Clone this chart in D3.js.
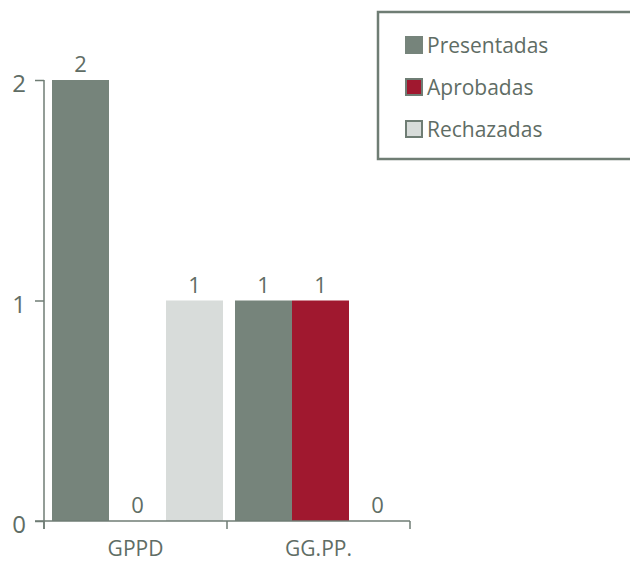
<!DOCTYPE html>
<html>
<head>
<meta charset="utf-8">
<script src="https://cdn.jsdelivr.net/npm/d3@7"></script>
<style>
  html, body { margin: 0; padding: 0; background: #fff; }
  svg { display: block; }
  text { font-family: "Open Sans", "Noto Sans", sans-serif; fill: #5f6d65; }
</style>
</head>
<body>
<svg id="chart" width="630" height="562"></svg>
<script>
const categories = ["GPPD", "GG.PP."];
const series = ["Presentadas", "Aprobadas", "Rechazadas"];
const presentadas = [2, 1];
const aprobadas = [0, 1];
const rechazadas = [1, 0];
const yTicks = [0, 1, 2];
const colors = ["#76847b", "#a0182f", "#d8dcda"];

const values = [presentadas, aprobadas, rechazadas];
const rows = [];
categories.forEach((c, ci) => series.forEach((s, si) => rows.push({cat: c, ser: s, si, v: values[si][ci]})));

const svg = d3.select("#chart");
const axisColor = "#6f7d74";

const x0 = d3.scaleBand().domain(categories).range([44, 410]).paddingInner(0).paddingOuter(0);
const x1 = d3.scaleBand().domain(series).range([8, x0.bandwidth() - 4]).padding(0);
const y = d3.scaleLinear().domain([0, 2]).range([521, 80]);

// bars
svg.append("g").selectAll("rect").data(rows).join("rect")
  .attr("x", d => x0(d.cat) + x1(d.ser))
  .attr("y", d => y(d.v))
  .attr("width", x1.bandwidth())
  .attr("height", d => y(0) - y(d.v))
  .attr("fill", d => colors[d.si]);

// value labels
svg.append("g").selectAll("text").data(rows).join("text")
  .attr("x", d => x0(d.cat) + x1(d.ser) + x1.bandwidth() / 2)
  .attr("y", d => y(d.v) - 8)
  .attr("text-anchor", "middle")
  .style("font-size", "22px")
  .text(d => d.v);

// y axis
const yAxis = svg.append("g").attr("transform", "translate(44,0)")
  .call(d3.axisLeft(y).tickValues(yTicks).tickFormat(d3.format("d")).tickSize(9).tickSizeOuter(0).tickPadding(9));
yAxis.select(".domain").attr("stroke", axisColor).attr("stroke-width", 1.5)
  .attr("d", `M0,${y(2)}V${y(0) + 8}`);
yAxis.selectAll(".tick line").attr("stroke", axisColor).attr("stroke-width", 1.5);
yAxis.selectAll(".tick text").style("font-size", "24px").attr("fill", "#5f6d65").attr("dy", "0.48em")
  .style("font-family", "'Open Sans', sans-serif");

// x axis
const xAxis = svg.append("g").attr("transform", `translate(0,${y(0)})`)
  .call(d3.axisBottom(x0).tickSize(0).tickSizeOuter(0).tickPadding(20));
xAxis.select(".domain").attr("stroke", axisColor).attr("stroke-width", 1.5)
  .attr("d", `M${44 - 9},0H${x0.range()[1]}`);
xAxis.selectAll(".tick text").style("font-size", "21px").attr("fill", "#5f6d65")
  .style("font-family", "'Open Sans', sans-serif");
const bounds = categories.map(c => x0(c)).concat([x0.range()[1]]);
xAxis.selectAll("line.bound").data(bounds).join("line").attr("class", "bound")
  .attr("x1", d => d).attr("x2", d => d).attr("y1", 0).attr("y2", 8)
  .attr("stroke", axisColor).attr("stroke-width", 1.5);

// legend
const lg = svg.append("g");
lg.append("rect").attr("x", 378).attr("y", 12).attr("width", 270).attr("height", 147)
  .attr("fill", "none").attr("stroke", axisColor).attr("stroke-width", 2.5);
const items = lg.selectAll("g.item").data(series).join("g").attr("class", "item")
  .attr("transform", (d, i) => `translate(406,${37 + i * 42})`);
items.append("rect").attr("x", 0).attr("y", 0).attr("width", 16).attr("height", 16)
  .attr("fill", (d, i) => colors[i]).attr("stroke", (d, i) => i === 0 ? colors[0] : axisColor).attr("stroke-width", 2);
items.append("text").attr("x", 21).attr("y", 16).style("font-size", "21px").text(d => d);
</script>
</body>
</html>
